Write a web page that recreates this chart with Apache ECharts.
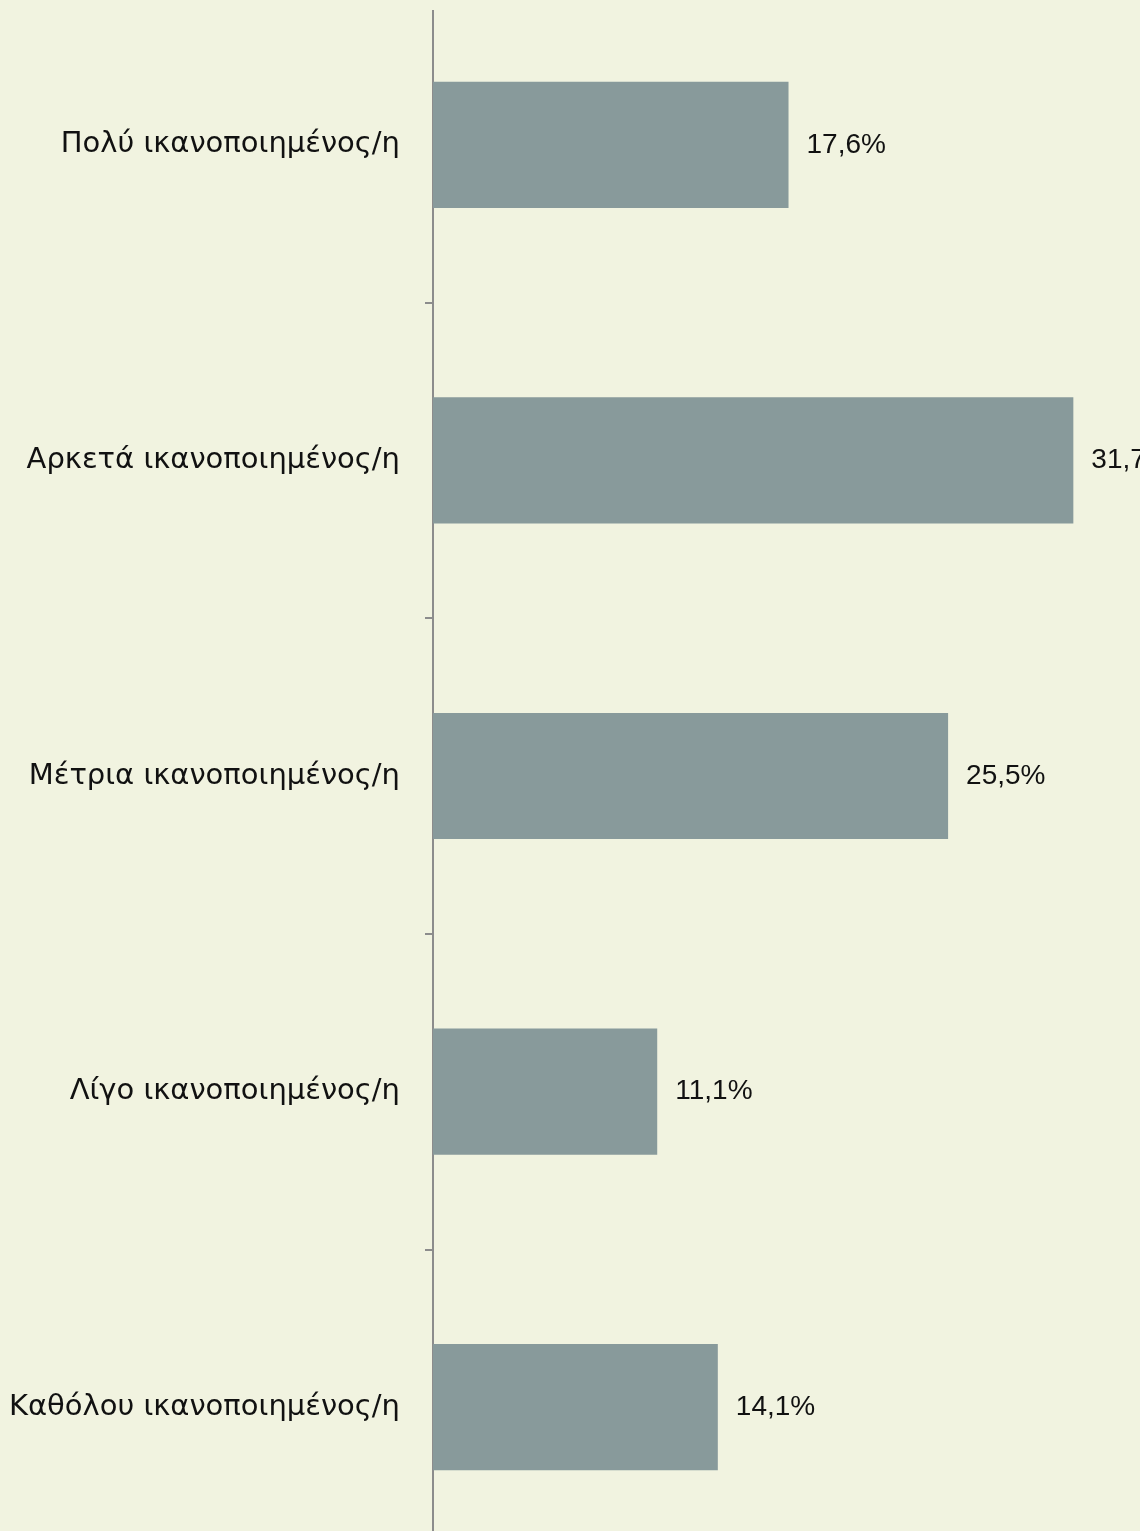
<!DOCTYPE html>
<html>
<head>
<meta charset="utf-8">
<script src="https://cdn.jsdelivr.net/npm/echarts@6/dist/echarts.min.js"></script>
<style>
  html, body { margin: 0; padding: 0; background: #F1F3E0; width: 1140px; height: 1531px; overflow: hidden; }
  #frame { position: absolute; left: 0; top: 10px; width: 1140px; height: 1521px; overflow: hidden; }
  #chart { position: absolute; left: 0; top: -23px; width: 1140px; height: 1578px; }
</style>
</head>
<body>
<div id="frame"><div id="chart"></div></div>
<script>
// Satisfaction levels (top to bottom) and share of respondents, in percent
const categories = [
  'Πολύ ικανοποιημένος/η',
  'Αρκετά ικανοποιημένος/η',
  'Μέτρια ικανοποιημένος/η',
  'Λίγο ικανοποιημένος/η',
  'Καθόλου ικανοποιημένος/η'
];
const values = [17.6, 31.7, 25.5, 11.1, 14.1];

const LABEL_FONT = '"DejaVu Sans", sans-serif';
const VALUE_FONT = '"Liberation Sans", "DejaVu Sans", sans-serif';
const fmt = v => v.toFixed(1).replace('.', ',') + '%';

const chart = echarts.init(document.getElementById('chart'), null, { renderer: 'canvas' });
chart.setOption({
  backgroundColor: 'transparent',
  animation: false,
  grid: { left: 433, right: 0, top: 0, bottom: 0, containLabel: false },
  xAxis: {
    type: 'value',
    min: 0,
    max: 35,
    show: false
  },
  yAxis: {
    type: 'category',
    inverse: true,
    data: categories,
    axisLine: { show: true, lineStyle: { color: '#8C8C8C', width: 2 } },
    axisTick: { show: true, length: 8, lineStyle: { color: '#8C8C8C', width: 2 } },
    axisLabel: {
      color: '#111111',
      fontFamily: LABEL_FONT,
      fontSize: 29,
      margin: 33,
      padding: [6, 0, 0, 0]
    },
    splitLine: { show: false }
  },
  series: [{
    type: 'bar',
    data: values,
    barWidth: '40%',
    itemStyle: { color: '#889A9B' },
    label: {
      show: true,
      position: 'right',
      distance: 18,
      color: '#111111',
      fontFamily: VALUE_FONT,
      fontSize: 28,
      padding: [6, 0, 0, 0],
      formatter: p => fmt(p.value)
    }
  }]
});
</script>
</body>
</html>
